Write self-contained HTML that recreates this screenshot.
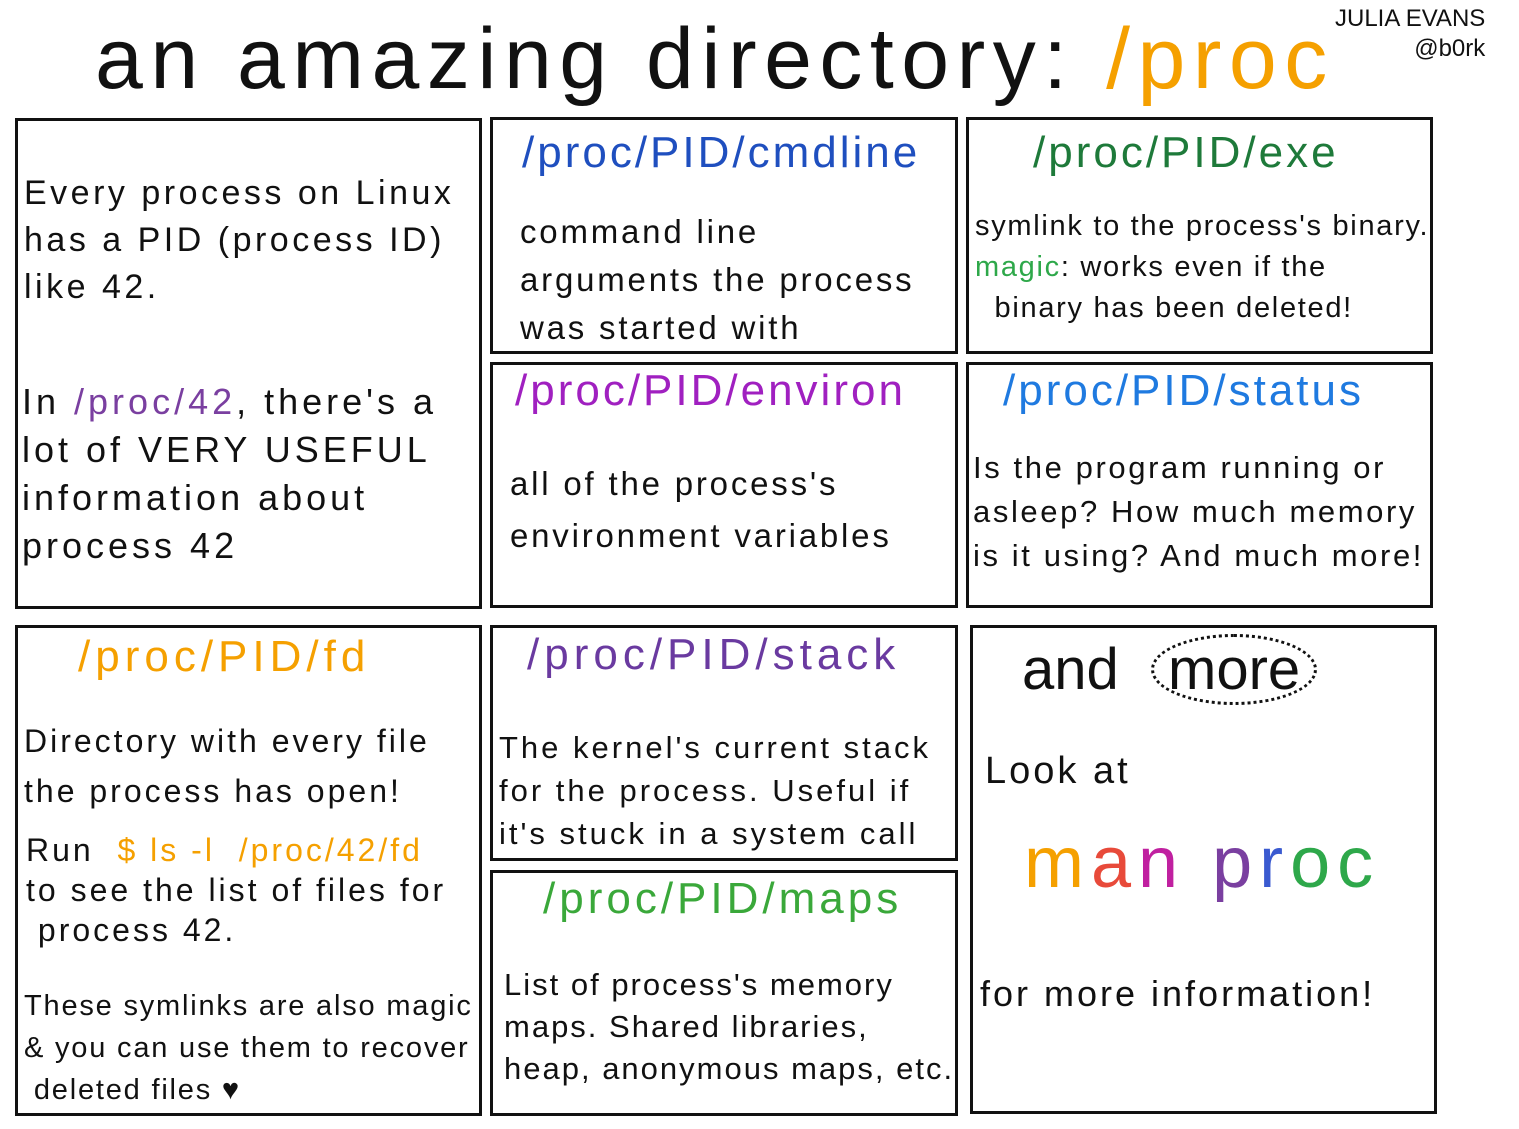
<!DOCTYPE html>
<html><head><meta charset="utf-8">
<style>
html,body{margin:0;padding:0;background:#fff;}
body{width:1519px;height:1129px;position:relative;overflow:hidden;font-family:"Liberation Sans",sans-serif;color:#111;}
.box{position:absolute;border:3px solid #111;box-sizing:border-box;}
.t{position:absolute;white-space:nowrap;}
.h{font-size:44px;letter-spacing:3px;}
.b{font-size:33px;line-height:47px;letter-spacing:3px;}
</style></head><body>
<div class="t" style="left:95px;top:10px;font-size:86px;letter-spacing:7.5px;">an amazing directory: <span style="color:#f5a000">/proc</span></div>
<div class="t" style="left:1335px;top:4px;font-size:24px;line-height:30px;text-align:right;">JULIA EVANS<br>@b0rk</div>

<div class="box" style="left:15px;top:118px;width:467px;height:491px;"></div>
<div class="t b" style="left:24px;top:170px;font-size:34px;letter-spacing:3.5px;">Every process on Linux<br>has a PID (process ID)<br>like 42.</div>
<div class="t b" style="left:22px;top:378px;font-size:36px;line-height:48px;letter-spacing:4px;">In <span style="color:#7a3fa0">/proc/42</span>, there's a<br>lot of VERY USEFUL<br>information about<br>process 42</div>

<div class="box" style="left:490px;top:117px;width:468px;height:237px;"></div>
<div class="t h" style="left:522px;top:128px;color:#1f4fbf;">/proc/PID/cmdline</div>
<div class="t b" style="left:520px;top:208px;line-height:48px;letter-spacing:2.8px;">command line<br>arguments the process<br>was started with</div>

<div class="box" style="left:966px;top:117px;width:467px;height:237px;"></div>
<div class="t h" style="left:1033px;top:128px;color:#1e7a3a;">/proc/PID/exe</div>
<div class="t b" style="left:975px;top:206px;font-size:29px;line-height:41px;letter-spacing:1.7px;">symlink to the process's binary.<br><span style="color:#2ea84a">magic</span>: works even if the<br>&nbsp;&nbsp;binary has been deleted!</div>

<div class="box" style="left:490px;top:362px;width:468px;height:246px;"></div>
<div class="t h" style="left:515px;top:366px;color:#a020c0;">/proc/PID/environ</div>
<div class="t b" style="left:510px;top:458px;line-height:52px;letter-spacing:2.8px;">all of the process's<br>environment variables</div>

<div class="box" style="left:966px;top:362px;width:467px;height:246px;"></div>
<div class="t h" style="left:1003px;top:366px;color:#1f7ae0;">/proc/PID/status</div>
<div class="t b" style="left:973px;top:446px;font-size:31px;line-height:44px;letter-spacing:2.6px;">Is the program running or<br>asleep? How much memory<br>is it using? And much more!</div>

<div class="box" style="left:15px;top:625px;width:467px;height:491px;"></div>
<div class="t h" style="left:78px;top:632px;color:#f5a000;letter-spacing:5px;">/proc/PID/fd</div>
<div class="t b" style="left:24px;top:716px;font-size:32px;line-height:50px;letter-spacing:3px;">Directory with every file<br>the process has open!</div>
<div class="t b" style="left:26px;top:830px;font-size:32px;line-height:40px;letter-spacing:3px;">Run &nbsp;<span style="color:#f5a000">$ ls -l &nbsp;/proc/42/fd</span><br>to see the list of files for<br>&nbsp;process 42.</div>
<div class="t b" style="left:24px;top:985px;font-size:29px;line-height:42px;letter-spacing:1.8px;">These symlinks are also magic<br>&amp; you can use them to recover<br>&nbsp;deleted files ♥</div>

<div class="box" style="left:490px;top:625px;width:468px;height:236px;"></div>
<div class="t h" style="left:527px;top:630px;color:#6a3aa0;letter-spacing:5px;">/proc/PID/stack</div>
<div class="t b" style="left:499px;top:726px;font-size:31px;line-height:43px;letter-spacing:3px;">The kernel's current stack<br>for the process. Useful if<br>it's stuck in a system call</div>

<div class="box" style="left:490px;top:870px;width:468px;height:246px;"></div>
<div class="t h" style="left:543px;top:874px;color:#3aa83a;letter-spacing:4px;">/proc/PID/maps</div>
<div class="t b" style="left:504px;top:964px;font-size:31px;line-height:42px;letter-spacing:2px;">List of process's memory<br>maps. Shared libraries,<br>heap, anonymous maps, etc.</div>

<div class="box" style="left:970px;top:625px;width:467px;height:489px;"></div>
<div class="t" style="left:1022px;top:636px;font-size:58px;">and &nbsp;<span style="border:3px dotted #111;border-radius:50%;padding:0 14px;">more</span></div>
<div class="t b" style="left:985px;top:748px;font-size:38px;">Look at</div>
<div class="t" style="left:1024px;top:822px;font-size:72px;letter-spacing:7px;"><span style="color:#f5a000">m</span><span style="color:#e84a3a">a</span><span style="color:#c020a0">n</span> <span style="color:#7a3fa0">p</span><span style="color:#3a5ad0">r</span><span style="color:#2ea84a">o</span><span style="color:#2ea84a">c</span></div>
<div class="t b" style="left:980px;top:970px;font-size:36px;letter-spacing:3px;">for more information!</div>
</body></html>
